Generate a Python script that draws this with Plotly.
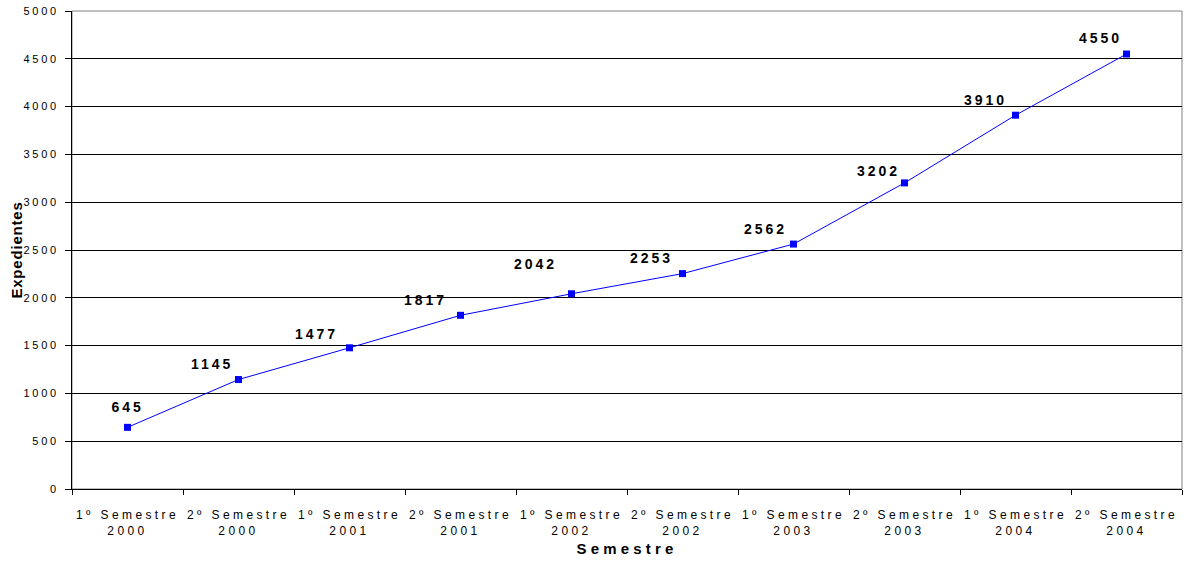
import plotly.graph_objects as go

# Semesters and case counts ("Expedientes")
semestres = ["1º Semestre", "2º Semestre", "1º Semestre", "2º Semestre", "1º Semestre",
             "2º Semestre", "1º Semestre", "2º Semestre", "1º Semestre", "2º Semestre"]
anos = ["2000", "2000", "2001", "2001", "2002", "2002", "2003", "2003", "2004", "2004"]
expedientes = [645, 1145, 1477, 1817, 2042, 2253, 2562, 3202, 3910, 4550]

categorias = [f"{s}<br>{a}" for s, a in zip(semestres, anos)]

# label placement relative to each point (pixels)
label_dx = [0, -26.5, -33.5, -35.5, -36.5, -31.5, -28.5, -26.5, -30.5, -26.5]
label_dy = [20, 16, 14, 15, 30, 16, 15, 12, 15, 16]

FONT = "Liberation Sans, Arial, sans-serif"

fig = go.Figure()
fig.add_trace(go.Scatter(
    x=categorias, y=expedientes,
    mode="lines+markers",
    line=dict(color="#0000FF", width=1),
    marker=dict(symbol="square", size=7, color="#0000FF", line=dict(width=0)),
    hoverinfo="x+y",
    showlegend=False,
))

for cat, val, dx, dy in zip(categorias, expedientes, label_dx, label_dy):
    fig.add_annotation(
        x=cat, y=val, text=str(val), showarrow=False,
        xshift=dx, yshift=dy,
        font=dict(family=FONT, size=14, color="#000000", weight="bold"),
    )

fig.update_layout(
    width=1189, height=561,
    margin=dict(l=72, r=7, t=11, b=72, autoexpand=False),
    paper_bgcolor="white", plot_bgcolor="white",
    font=dict(family=FONT, color="#000000"),
    shapes=[dict(type="rect", xref="paper", yref="paper", x0=0, x1=1, y0=0, y1=1,
                 line=dict(color="#808080", width=1), layer="below")],
)

fig.update_xaxes(
    type="category", range=[-0.5, 9.5], automargin=False,
    showgrid=False, zeroline=False,
    showline=True, linecolor="#000000", linewidth=1,
    ticks="outside", tickson="boundaries", ticklen=5, tickcolor="#000000",
    tickangle=0, ticklabelstandoff=15,
    tickfont=dict(family=FONT, size=12, color="#000000"),
    title=dict(text="Semestre", standoff=6,
               font=dict(family=FONT, size=15, color="#000000", weight="bold")),
)

fig.update_yaxes(
    range=[0, 5000], dtick=500, automargin=False,
    showgrid=True, gridcolor="#000000", gridwidth=1,
    zeroline=False,
    showline=True, linecolor="#000000", linewidth=1,
    ticks="outside", ticklen=6, tickcolor="#000000",
    ticklabelstandoff=4,
    tickfont=dict(family=FONT, size=11, color="#000000"),
    title=dict(text="Expedientes", standoff=8,
               font=dict(family=FONT, size=15, color="#000000", weight="bold")),
)

spacing_css = (
    "var st=document.createElement('style');"
    "st.textContent='"
    ".xtick text{letter-spacing:3.4px}"
    ".ytick text{letter-spacing:2.7px}"
    ".annotation-text{letter-spacing:3px}"
    ".g-xtitle text{letter-spacing:4.2px}"
    ".g-ytitle text{letter-spacing:0.8px}"
    "';document.head.appendChild(st);"
)

fig.write_html("out.html", post_script=spacing_css)
